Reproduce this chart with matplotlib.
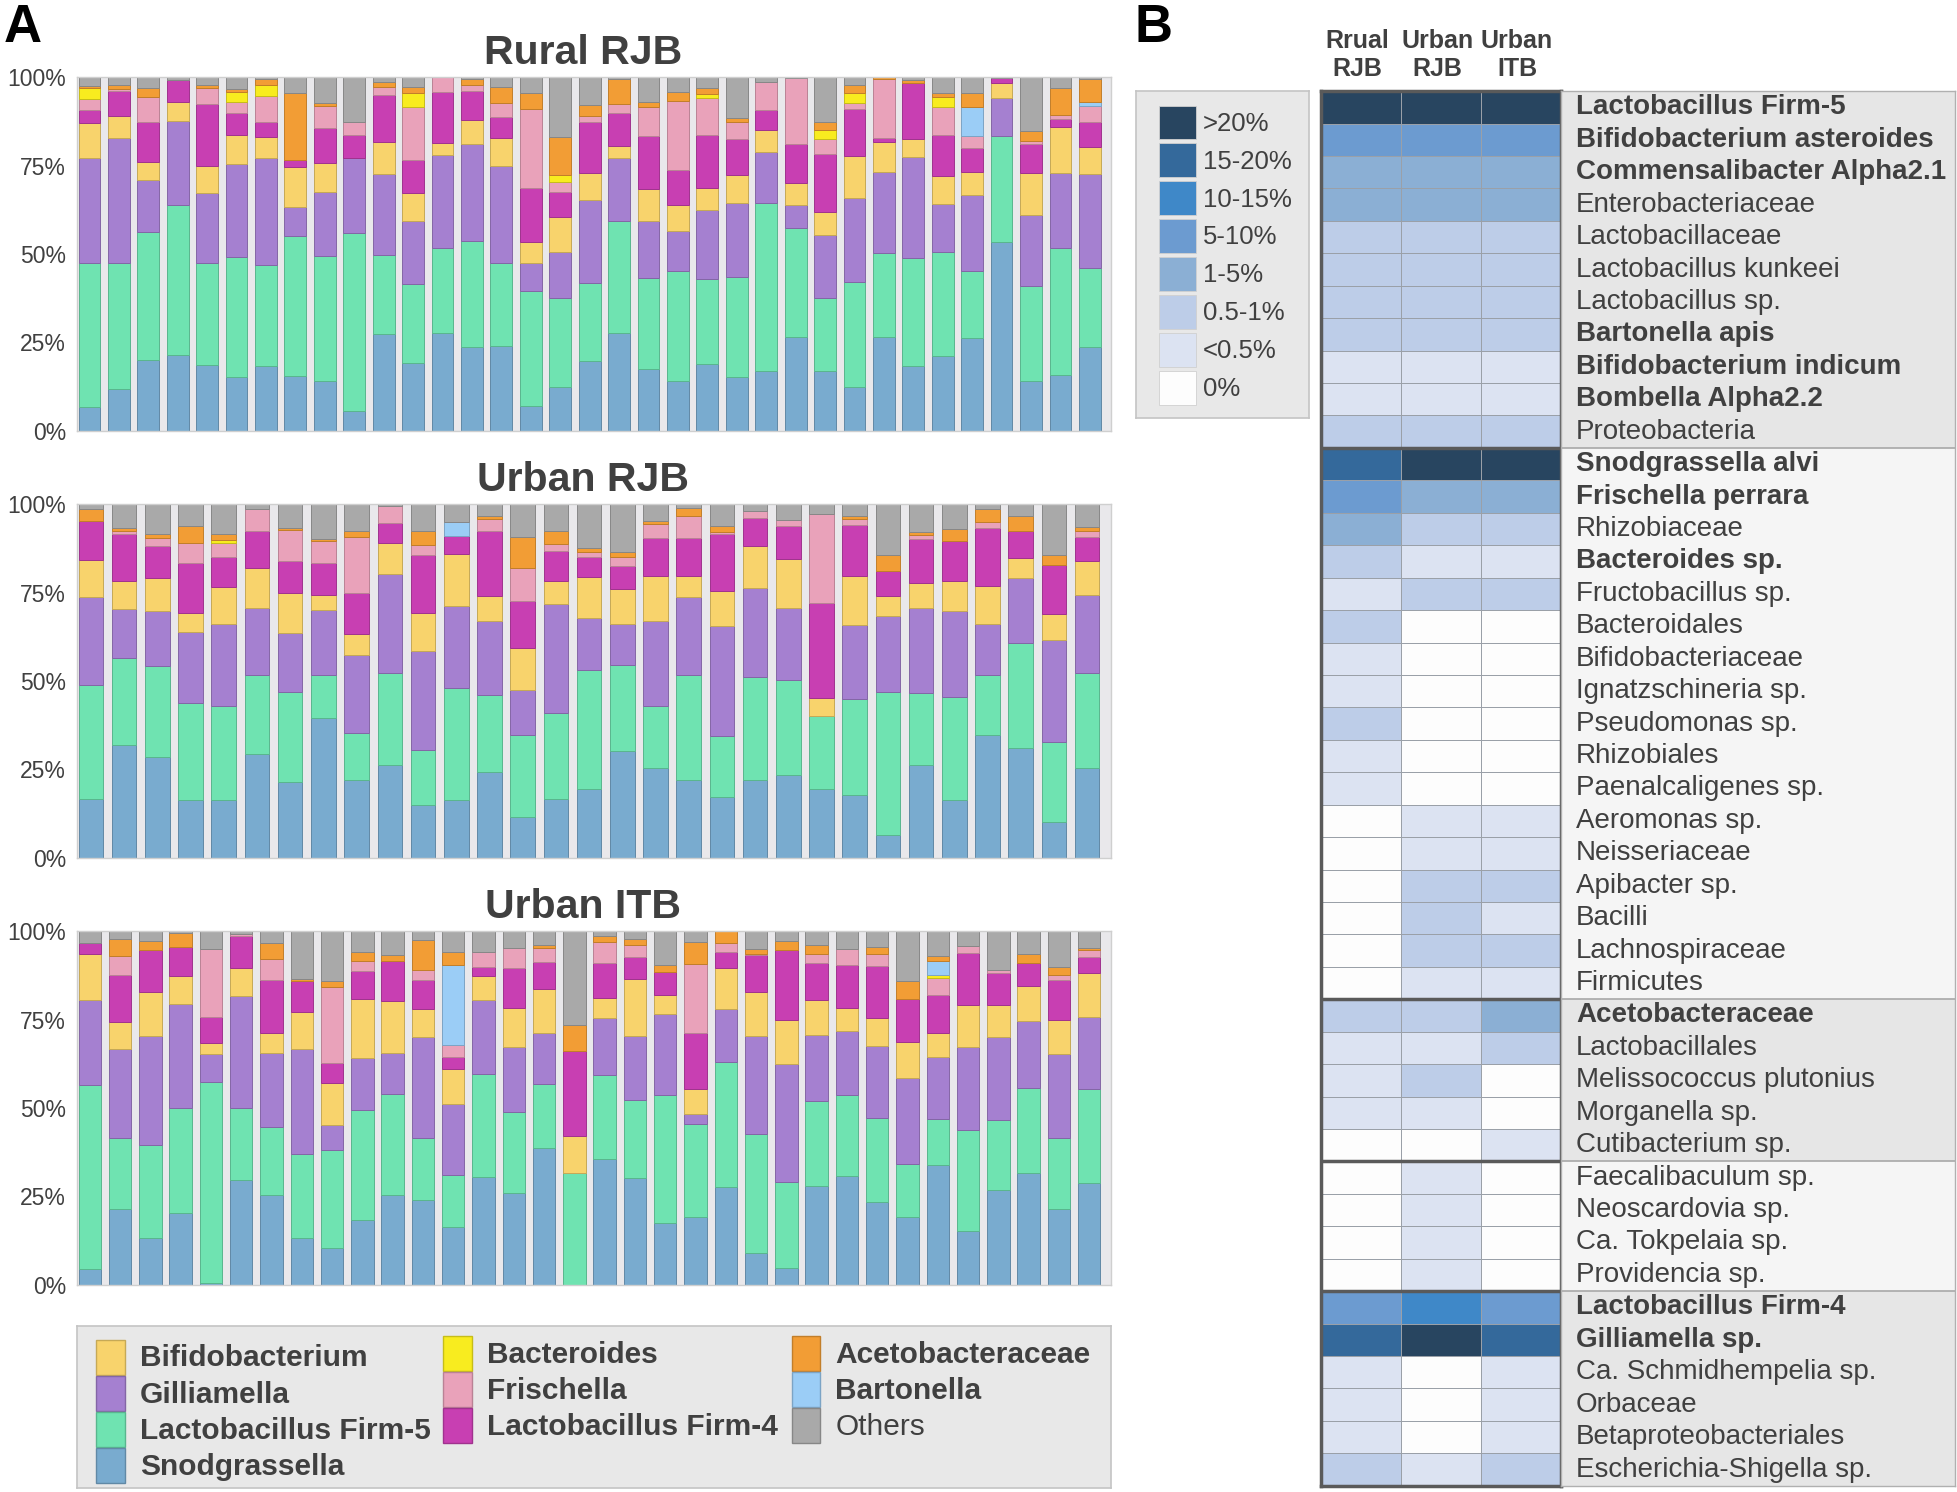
import numpy as np
import matplotlib.pyplot as plt
from matplotlib.colors import ListedColormap, BoundaryNorm, to_rgb
from matplotlib.patches import Rectangle

plt.rcParams["font.family"] = ["Liberation Sans", "DejaVu Sans"]
TEXT = "#404040"

# ---------------- panel A data: relative abundance (%) per sample ----------------
taxa = ["Snodgrassella", "Lactobacillus Firm-5", "Gilliamella", "Bifidobacterium",
        "Lactobacillus Firm-4", "Frischella", "Bacteroides", "Bartonella",
        "Acetobacteraceae", "Others"]
taxa_colors = ["#79abcf", "#6fe3b1", "#a580d0", "#f8d36c", "#c83fb2",
               "#e9a2ba", "#f8ec1f", "#9bcdf6", "#f29d35", "#a9a9a9"]

rural_snod = [6.7, 11.9, 19.9, 21.5, 18.7, 15.1, 18.2, 15.6, 14.1, 5.7, 27.3, 19.3, 27.8, 23.6, 24.0, 7.1, 12.3, 19.8,
              27.8, 17.4, 14.1, 18.8, 15.1, 17.0, 26.4, 17.0, 12.5, 26.4, 18.4, 21.2, 26.2, 53.5, 14.1, 15.8, 23.8]
rural_firm5 = [40.7, 35.5, 36.3, 42.4, 28.7, 33.9, 28.7, 39.5, 35.4, 50.2, 22.5, 22.2, 23.8, 30.2, 23.4, 32.5, 25.4, 22.1,
               31.6, 25.8, 31.1, 24.1, 28.5, 47.6, 30.9, 20.7, 29.7, 24.0, 30.6, 29.5, 18.9, 29.9, 26.9, 35.8, 22.4]
rural_gill = [29.7, 35.4, 14.8, 23.8, 19.8, 26.4, 30.2, 8.3, 18.2, 21.2, 22.8, 18.0, 26.4, 27.3, 27.5, 7.8, 13.0, 23.4,
              17.7, 16.2, 11.4, 19.6, 20.8, 14.4, 6.6, 17.7, 23.6, 22.9, 28.6, 13.4, 21.6, 10.7, 20.1, 21.3, 26.5]
rural_bifido = [9.9, 6.2, 5.2, 5.4, 7.7, 8.0, 6.1, 11.3, 8.2, 0, 9.2, 7.9, 3.5, 6.8, 7.9, 5.9, 9.9, 7.7,
                3.5, 8.9, 7.3, 6.1, 8.0, 6.1, 6.3, 6.4, 12.0, 8.5, 5.1, 8.1, 6.6, 4.2, 11.8, 13.1, 7.7]
rural_firm4 = [3.8, 7.1, 11.3, 6.1, 17.7, 6.4, 4.2, 1.9, 9.7, 6.6, 13.2, 9.2, 14.4, 8.3, 5.9, 15.3, 7.1, 14.5,
               9.2, 15.1, 9.9, 15.1, 10.3, 5.7, 11.1, 16.5, 13.4, 1.1, 15.6, 11.5, 6.6, 1.5, 8.2, 2.3, 7.1]
rural_frisch = [3.1, 0.6, 7.0, 0, 4.3, 3.0, 7.3, 0, 6.3, 3.8, 2.3, 15.1, 4.1, 1.8, 4.0, 22.6, 2.8, 1.5,
                2.8, 8.3, 19.6, 10.5, 4.8, 8.0, 18.4, 4.4, 1.6, 16.6, 0, 7.9, 3.5, 0, 1.0, 1.1, 4.4]
rural_bact = [3.0, 0, 0, 0, 0, 2.8, 3.3, 0, 0, 0, 0, 3.8, 0, 0, 0, 0, 1.9, 0,
              0, 0, 0, 1.0, 0, 0, 0, 2.4, 2.7, 0, 0, 2.9, 0, 0, 0, 0, 0]
rural_barton = [0, 0, 0, 0, 0, 0, 0, 0, 0, 0, 0, 0, 0, 0, 0, 0, 0, 0,
                0, 0, 0, 0, 0, 0, 0, 0, 0, 0, 0, 0, 8.3, 0, 0, 0, 1.2]
rural_aceto = [0.6, 1.1, 2.4, 0, 0.9, 0.8, 1.5, 19.1, 0.9, 0, 1.3, 1.7, 0, 1.6, 4.5, 4.3, 10.6, 3.2,
               6.9, 1.4, 2.5, 1.8, 0.9, 0, 0, 2.4, 2.3, 0.5, 1.0, 1.2, 3.8, 0, 2.6, 7.6, 6.4]
rural_others = [2.5, 2.2, 3.1, 0.8, 2.2, 3.4, 0.5, 4.3, 7.2, 12.5, 1.4, 2.8, 0, 0.4, 2.8, 4.5, 17.0, 7.8,
                0.5, 6.9, 4.1, 3.0, 11.6, 1.2, 0.3, 12.5, 2.2, 0, 0.7, 4.3, 4.5, 0.2, 15.3, 3.0, 0.5]

urjb_snod = [16.7, 32.0, 28.6, 16.3, 16.3, 29.5, 21.5, 39.5, 21.9, 26.3, 14.9, 16.3, 24.3, 11.5, 16.7, 19.6,
             30.0, 25.4, 21.9, 17.2, 21.9, 23.5, 19.6, 17.8, 6.4, 26.3, 16.3, 34.7, 31.0, 10.2, 25.4]
urjb_firm5 = [32.3, 24.6, 25.8, 27.5, 26.6, 22.3, 25.3, 12.3, 13.3, 26.0, 15.7, 31.7, 21.8, 23.2, 24.3, 33.4,
              24.4, 17.5, 29.9, 17.3, 29.4, 26.9, 20.6, 27.0, 40.6, 20.2, 29.3, 17.0, 29.8, 22.7, 26.9]
urjb_gill = [24.8, 13.7, 15.4, 20.2, 23.1, 19.0, 16.8, 18.4, 22.3, 28.1, 27.9, 23.2, 20.8, 12.8, 30.7, 14.9,
             11.6, 24.1, 22.0, 31.1, 25.1, 20.4, 0, 21.2, 21.4, 24.2, 24.1, 14.5, 18.5, 28.8, 22.2]
urjb_bifido = [10.5, 8.0, 9.5, 5.3, 10.3, 11.2, 11.4, 4.3, 5.7, 8.8, 10.8, 14.6, 7.1, 11.9, 6.6, 11.6,
               9.9, 12.8, 6.0, 9.9, 11.9, 13.7, 5.0, 13.8, 5.7, 7.1, 8.5, 10.7, 5.6, 7.2, 9.4]
urjb_firm4 = [10.9, 13.3, 8.9, 14.1, 8.6, 10.5, 8.9, 8.9, 11.7, 5.6, 16.5, 5.2, 18.4, 13.3, 8.5, 5.6,
              6.4, 10.7, 10.7, 16.1, 7.9, 9.5, 26.9, 14.5, 7.0, 12.4, 11.4, 16.5, 7.5, 14.1, 7.0]
urjb_frisch = [0, 0.9, 2.2, 5.8, 3.8, 6.2, 8.8, 6.2, 15.9, 4.7, 2.8, 0, 3.6, 9.4, 1.9, 1.4,
               2.6, 4.0, 6.2, 0.7, 1.9, 1.6, 25.3, 1.7, 0, 1.1, 0, 1.7, 0, 0, 1.6]
urjb_bact = [0, 0, 0, 0, 0.9, 0, 0, 0, 0, 0, 0, 0, 0, 0, 0, 0,
             0, 0, 0, 0, 0, 0, 0, 0, 0, 0, 0, 0, 0, 0, 0]
urjb_barton = [0, 0, 0, 0, 0, 0, 0, 0, 0, 0, 0, 3.9, 0, 0, 0, 0,
               0, 0, 0, 0, 0, 0, 0, 0, 0, 0, 0, 0, 0, 0, 0]
urjb_aceto = [3.4, 0.7, 1.2, 4.6, 1.7, 0, 0.7, 0.7, 1.6, 0, 3.8, 0, 0.8, 9.0, 3.6, 1.2,
              1.4, 0.7, 2.2, 1.7, 0, 0, 0, 0.8, 4.5, 0.8, 3.4, 3.5, 4.3, 2.8, 1.1]
urjb_others = [1.4, 6.8, 8.4, 6.2, 8.4, 1.3, 6.6, 9.7, 7.6, 0.5, 7.6, 4.9, 3.2, 9.1, 7.6, 12.3,
               13.4, 4.8, 1.1, 6.0, 1.9, 4.4, 2.6, 3.2, 14.4, 7.9, 7.0, 1.4, 3.3, 14.2, 6.4]

uitb_snod = [4.4, 21.4, 13.2, 20.4, 0.5, 29.6, 25.4, 13.2, 10.3, 18.3, 25.4, 24.0, 16.3, 30.6, 25.9, 38.6, 0,
             35.7, 30.1, 17.4, 19.3, 27.8, 8.9, 4.7, 28.0, 30.9, 23.3, 19.1, 33.9, 15.1, 26.8, 31.7, 21.4, 28.7]
uitb_firm5 = [52.2, 20.0, 26.3, 29.7, 56.9, 20.5, 19.1, 23.8, 27.8, 31.1, 28.5, 17.4, 14.9, 29.1, 23.0, 18.3, 31.7,
              23.6, 22.1, 36.2, 26.3, 35.2, 33.9, 24.5, 24.0, 22.7, 24.0, 15.0, 13.1, 28.6, 19.8, 24.1, 20.0, 26.6]
uitb_gill = [24.0, 25.2, 30.9, 29.4, 8.0, 31.6, 20.9, 29.6, 6.9, 14.9, 11.8, 28.7, 20.1, 21.0, 18.4, 14.4, 0,
             16.2, 18.2, 23.1, 2.8, 15.1, 27.6, 33.4, 18.8, 18.2, 20.2, 24.5, 17.4, 23.6, 23.5, 18.8, 24.0, 20.4]
uitb_bifido = [13.0, 7.5, 12.4, 8.0, 3.1, 8.0, 5.9, 10.5, 12.0, 16.6, 14.5, 8.0, 9.7, 6.6, 11.1, 12.4, 10.4,
               5.7, 16.1, 5.4, 7.1, 11.6, 12.4, 12.2, 9.9, 6.6, 8.0, 10.2, 6.9, 12.0, 9.2, 9.9, 9.4, 12.5]
uitb_firm4 = [3.2, 13.2, 11.9, 8.1, 7.4, 8.9, 14.9, 9.0, 5.6, 8.0, 11.5, 8.3, 3.6, 2.7, 11.3, 7.6, 24.0,
              9.9, 6.4, 6.4, 15.8, 4.6, 10.4, 20.0, 10.3, 12.2, 14.6, 12.1, 10.8, 14.6, 8.8, 6.6, 11.6, 4.5]
uitb_frisch = [0, 5.5, 0, 0, 19.0, 0.6, 5.8, 0, 21.4, 2.8, 0, 2.6, 3.2, 4.2, 5.6, 4.1, 0,
               5.9, 3.2, 0, 19.6, 2.4, 0.5, 0, 2.7, 4.5, 3.6, 0, 4.6, 1.9, 0.9, 0, 1.2, 2.1]
uitb_bact = [0, 0, 0, 0, 0, 0, 0, 0, 0, 0, 0, 0, 0, 0, 0, 0, 0,
             0, 0, 0, 0, 0, 0, 0, 0, 0, 0, 0, 0.9, 0, 0, 0, 0, 0]
uitb_barton = [0, 0, 0, 0, 0, 0, 0, 0, 0, 0, 0, 0, 22.6, 0, 0, 0, 0,
               0, 0, 0, 0, 0, 0, 0, 0, 0, 0, 0, 4.0, 0, 0, 0, 0, 0]
uitb_aceto = [0, 4.7, 2.6, 4.0, 0, 0, 4.5, 0.5, 1.7, 2.4, 1.6, 8.5, 3.8, 0, 0, 0.8, 7.4,
              1.8, 1.7, 2.0, 6.0, 3.3, 1.3, 2.5, 2.5, 0, 2.0, 5.0, 1.4, 0, 0, 2.5, 2.2, 0.5]
uitb_others = [3.2, 2.2, 2.7, 0.4, 5.1, 0.8, 3.4, 13.4, 14.1, 5.9, 6.7, 2.5, 5.8, 5.8, 4.7, 3.8, 26.5,
               1.2, 2.2, 9.5, 3.1, 0, 5.0, 2.7, 3.8, 4.9, 4.3, 14.1, 7.0, 4.2, 11.0, 6.4, 10.2, 4.7]

yticks = [0, 25, 50, 75, 100]
legend_cols = [["Bifidobacterium", "Gilliamella", "Lactobacillus Firm-5", "Snodgrassella"],
               ["Bacteroides", "Frischella", "Lactobacillus Firm-4"],
               ["Acetobacteraceae", "Bartonella", "Others"]]

# ---------------- panel B data: abundance class per group ----------------
heat_taxa = ["Lactobacillus Firm-5", "Bifidobacterium asteroides", "Commensalibacter Alpha2.1",
             "Enterobacteriaceae", "Lactobacillaceae", "Lactobacillus kunkeei", "Lactobacillus sp.",
             "Bartonella apis", "Bifidobacterium indicum", "Bombella Alpha2.2", "Proteobacteria",
             "Snodgrassella alvi", "Frischella perrara", "Rhizobiaceae", "Bacteroides sp.",
             "Fructobacillus sp.", "Bacteroidales", "Bifidobacteriaceae", "Ignatzschineria sp.",
             "Pseudomonas sp.", "Rhizobiales", "Paenalcaligenes sp.", "Aeromonas sp.", "Neisseriaceae",
             "Apibacter sp.", "Bacilli", "Lachnospiraceae", "Firmicutes",
             "Acetobacteraceae", "Lactobacillales", "Melissococcus plutonius", "Morganella sp.",
             "Cutibacterium sp.",
             "Faecalibaculum sp.", "Neoscardovia sp.", "Ca. Tokpelaia sp.", "Providencia sp.",
             "Lactobacillus Firm-4", "Gilliamella sp.", "Ca. Schmidhempelia sp.", "Orbaceae",
             "Betaproteobacteriales", "Escherichia-Shigella sp."]
heat_bold = ["Lactobacillus Firm-5", "Bifidobacterium asteroides", "Commensalibacter Alpha2.1",
             "Bartonella apis", "Bifidobacterium indicum", "Bombella Alpha2.2", "Snodgrassella alvi",
             "Frischella perrara", "Bacteroides sp.", "Acetobacteraceae", "Lactobacillus Firm-4",
             "Gilliamella sp."]
group_sizes = [11, 17, 5, 4, 6]
heat_cols = ["Rrual\nRJB", "Urban\nRJB", "Urban\nITB"]
# 0: 0%, 1: <0.5%, 2: 0.5-1%, 3: 1-5%, 4: 5-10%, 5: 10-15%, 6: 15-20%, 7: >20%
heat_rural = [7, 4, 3, 3, 2, 2, 2, 2, 1, 1, 2,
              6, 4, 3, 2, 1, 2, 1, 1, 2, 1, 1, 0, 0, 0, 0, 0, 0,
              2, 1, 1, 1, 0,
              0, 0, 0, 0,
              4, 6, 1, 1, 1, 2]
heat_urban_rjb = [7, 4, 3, 3, 2, 2, 2, 2, 1, 1, 2,
                  7, 3, 2, 1, 2, 0, 0, 0, 0, 0, 0, 1, 1, 2, 2, 2, 1,
                  2, 1, 2, 1, 0,
                  1, 1, 1, 1,
                  5, 7, 0, 0, 0, 1]
heat_urban_itb = [7, 4, 3, 3, 2, 2, 2, 2, 1, 1, 2,
                  7, 3, 2, 1, 2, 0, 0, 0, 0, 0, 0, 1, 1, 2, 1, 2, 1,
                  3, 2, 0, 0, 1,
                  0, 0, 0, 0,
                  4, 6, 1, 1, 1, 2]
class_labels = ["0%", "<0.5%", "0.5-1%", "1-5%", "5-10%", "10-15%", "15-20%", ">20%"]
class_colors = ["#fdfdfd", "#dce3f2", "#bdcde8", "#8bafd4", "#6c9bd0", "#3f88c8", "#34699b", "#284560"]

fig = plt.figure(figsize=(19.58, 14.92), dpi=100)


def stacked(ax, title, series):
    vals = np.array(series, dtype=float)
    vals = vals / vals.sum(axis=0) * 100
    n = vals.shape[1]
    x = np.arange(n)
    bottom = np.zeros(n)
    for v, c in zip(vals, taxa_colors):
        edge = tuple(np.array(to_rgb(c)) * 0.8)
        ax.bar(x, v, bottom=bottom, width=0.74, align="edge", color=c,
               edgecolor=edge, linewidth=np.where(v > 0, 0.7, 0))
        bottom += v
    ax.set_xlim(-0.04, n + 0.1)
    ax.set_ylim(0, 100)
    ax.set_facecolor("#e9e8eb")
    ax.set_xticks([])
    ax.set_yticks(yticks)
    ax.set_yticklabels([f"{t}%" for t in yticks])
    ax.tick_params(axis="y", length=0, pad=8, labelsize=16.5, labelcolor=TEXT)
    for s in ax.spines.values():
        s.set_color("#cfcfcf")
        s.set_linewidth(1.0)
    ax.set_title(title, fontsize=29.5, fontweight="bold", color=TEXT, pad=10, x=0.489)


panels = [
    ("Rural RJB", 0.7113, [rural_snod, rural_firm5, rural_gill, rural_bifido, rural_firm4,
                           rural_frisch, rural_bact, rural_barton, rural_aceto, rural_others]),
    ("Urban RJB", 0.4251, [urjb_snod, urjb_firm5, urjb_gill, urjb_bifido, urjb_firm4,
                           urjb_frisch, urjb_bact, urjb_barton, urjb_aceto, urjb_others]),
    ("Urban ITB", 0.1389, [uitb_snod, uitb_firm5, uitb_gill, uitb_bifido, uitb_firm4,
                           uitb_frisch, uitb_bact, uitb_barton, uitb_aceto, uitb_others]),
]
for title, y0, series in panels:
    ax = fig.add_axes([0.0395, y0, 0.5281, 0.2368])
    stacked(ax, title, series)

# legend of panel A (units: layout pixels inside the box)
axl = fig.add_axes([0.0395, 0.0025, 0.5281, 0.1088])
axl.set_xlim(0, 828)
axl.set_ylim(130, 0)
axl.set_xticks([])
axl.set_yticks([])
axl.set_facecolor("#e8e8e8")
for s in axl.spines.values():
    s.set_color("#c4c4c4")
    s.set_linewidth(1.2)
col_x = [15, 293, 572]
for ci, names in enumerate(legend_cols):
    y_start = 25 if ci == 0 else 22
    for ri, name in enumerate(names):
        c = taxa_colors[taxa.index(name)]
        yc = y_start + ri * 29
        axl.add_patch(Rectangle((col_x[ci], yc - 14), 23, 28, facecolor=c,
                                edgecolor=tuple(np.array(to_rgb(c)) * 0.8), lw=1))
        axl.text(col_x[ci] + 35, yc + 1, name, fontsize=21.5, va="center", ha="left",
                 color=TEXT, fontweight="normal" if name == "Others" else "bold")

# ---------------- panel B ----------------
codes = np.array([heat_rural, heat_urban_rjb, heat_urban_itb]).T
nrow = len(heat_taxa)
cmap = ListedColormap(class_colors)
norm = BoundaryNorm(np.arange(-0.5, 8.5, 1), cmap.N)

axh = fig.add_axes([0.6748, 0.0042, 0.1224, 0.9347])
axh.pcolormesh(np.arange(4), np.arange(nrow + 1), codes, cmap=cmap, norm=norm,
               edgecolors="#9aa0a8", linewidth=0.6)
axh.set_xlim(0, 3)
axh.set_ylim(nrow, 0)
axh.set_xticks([])
axh.set_yticks([])
for s in axh.spines.values():
    s.set_color("#5a5a5a")
    s.set_linewidth(2.5)

axt = fig.add_axes([0.7972, 0.0042, 0.2015, 0.9347])
axt.set_xlim(0, 1)
axt.set_ylim(nrow, 0)
axt.set_xticks([])
axt.set_yticks([])
for s in axt.spines.values():
    s.set_color("#b0b0b0")
    s.set_linewidth(1.0)
start = 0
for gi, size in enumerate(group_sizes):
    axt.axhspan(start, start + size, color="#e6e6e6" if gi % 2 == 0 else "#f5f5f5", zorder=0)
    if start > 0:
        axh.axhline(start, color="#5a5a5a", lw=2.5)
        axt.axhline(start, color="#a8a8a8", lw=1.2)
    start += size
for i, name in enumerate(heat_taxa):
    axt.text(0.038, i + 0.5, name, fontsize=20, va="center", ha="left", color=TEXT,
             fontweight="bold" if name in heat_bold else "normal")

for j, lab in enumerate(heat_cols):
    fig.text(0.6748 + 0.1224 * (j + 0.5) / 3 - 0.002, 0.946, lab, fontsize=18, fontweight="bold",
             color=TEXT, ha="center", va="bottom", linespacing=1.2)

# legend of panel B
axc = fig.add_axes([0.5804, 0.7197, 0.0880, 0.2192])
axc.set_xlim(0, 138)
axc.set_ylim(262, 0)
axc.set_xticks([])
axc.set_yticks([])
axc.set_facecolor("#e8e8e8")
for s in axc.spines.values():
    s.set_color("#c4c4c4")
    s.set_linewidth(1.2)
for k, code in enumerate(range(7, -1, -1)):
    yc = 25 + k * 30.4
    axc.add_patch(Rectangle((18, yc - 13.5), 30, 27, facecolor=class_colors[code],
                            edgecolor="#d0d0d0", lw=0.6))
    axc.text(53, yc + 1, class_labels[code], fontsize=18.5, va="center", ha="left", color=TEXT)

fig.text(0.002, 0.998, "A", fontsize=38, fontweight="bold", ha="left", va="top")
fig.text(0.5795, 0.998, "B", fontsize=38, fontweight="bold", ha="left", va="top")

fig.savefig("out.png", dpi=100)
